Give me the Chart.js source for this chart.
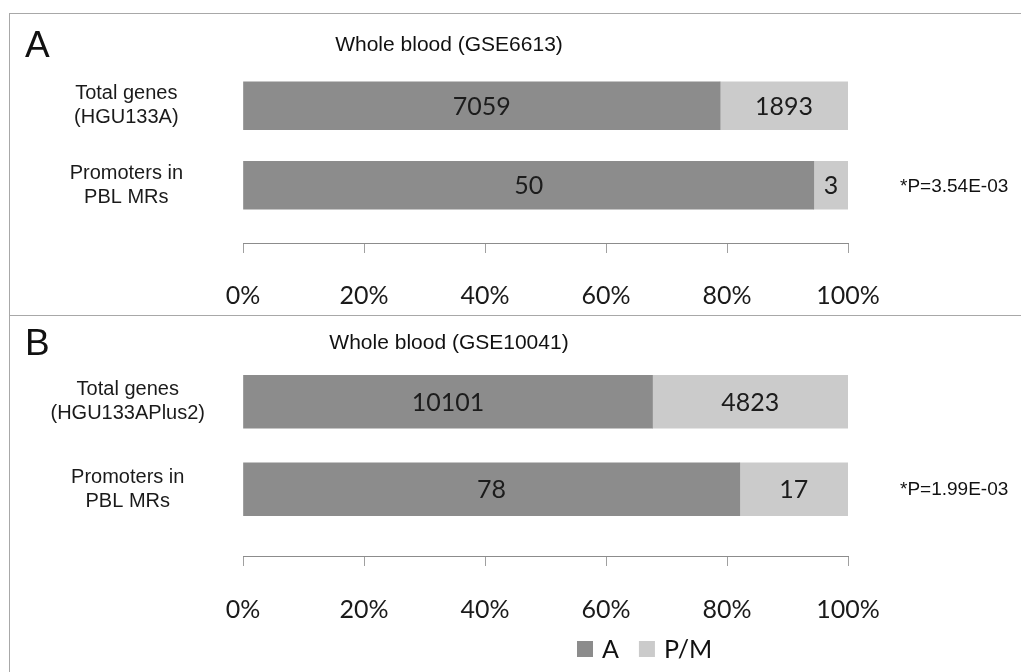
<!DOCTYPE html>
<html>
<head>
<meta charset="utf-8">
<script src="https://cdn.jsdelivr.net/npm/chart.js@4.4.1/dist/chart.umd.min.js"></script>
<style>
  html, body { margin: 0; padding: 0; background: #fff; }
  #wrap { position: relative; width: 1021px; height: 672px; overflow: hidden; background: #fff; }
  .panel { position: absolute; left: 0; width: 1021px; }
  .rule { position: absolute; background: #a8a8a8; }
</style>
</head>
<body>
<div id="wrap">
  <div class="panel" style="top:0;height:315px"><canvas id="chartA" width="1021" height="315"></canvas></div>
  <div class="panel" style="top:315px;height:357px"><canvas id="chartB" width="1021" height="357"></canvas></div>
  <div class="rule" style="left:9px;top:13px;width:1012px;height:1px"></div>
  <div class="rule" style="left:9px;top:13px;width:1px;height:659px"></div>
  <div class="rule" style="left:9px;top:315px;width:1012px;height:1px"></div>
</div>
<script>
// Series and shared axis values
const seriesNames = ['A', 'P/M'];
const seriesColors = ['#8c8c8c', '#cbcbcb'];
const percentTicks = [0, 20, 40, 60, 80, 100];

// Panel A: whole blood, GSE6613
const panelLetterA = 'A';
const titleA = 'Whole blood (GSE6613)';
const categoriesA = [['Total genes', '(HGU133A)'], ['Promoters in', 'PBL MRs']];
const countsA_A = [7059, 50];
const countsA_PM = [1893, 3];
const pLabelsA = ['', '*P=3.54E-03'];

// Panel B: whole blood, GSE10041
const panelLetterB = 'B';
const titleB = 'Whole blood (GSE10041)';
const categoriesB = [['Total genes', '(HGU133APlus2)'], ['Promoters in', 'PBL MRs']];
const countsB_A = [10101, 78];
const countsB_PM = [4823, 17];
const pLabelsB = ['', '*P=1.99E-03'];

const SANS = "'Liberation Sans', Arial, sans-serif";
const ROUND = "Lato, 'Open Sans', sans-serif";

Chart.defaults.font.family = SANS;
Chart.defaults.color = '#1a1a1a';

// share of each row, in percent
function percentRows(part, other) {
  return part.map((v, i) => ({ x: v / (v + other[i]) * 100, y: i }));
}

// count written in the middle of each segment
const segmentLabels = {
  id: 'segmentLabels',
  afterDatasetsDraw(chart) {
    const ctx = chart.ctx;
    ctx.save();
    ctx.font = `25px ${ROUND}`;
    ctx.fillStyle = '#1c1c1c';
    ctx.textAlign = 'center';
    ctx.textBaseline = 'middle';
    chart.data.datasets.forEach((ds, di) => {
      chart.getDatasetMeta(di).data.forEach((el, i) => {
        const p = el.getCenterPoint();
        ctx.fillText(String(ds.counts[i]), p.x, p.y + 1);
      });
    });
    ctx.restore();
  }
};

// panel letter, heading and p-value notes
const panelText = {
  id: 'panelText',
  afterDraw(chart, args, o) {
    const ctx = chart.ctx;
    const area = chart.chartArea;
    ctx.save();
    ctx.fillStyle = '#111';
    ctx.textBaseline = 'middle';
    ctx.textAlign = 'left';
    ctx.font = `37px ${SANS}`;
    ctx.fillText(o.letter, o.letterX, o.letterY);
    ctx.font = `21px ${SANS}`;
    ctx.textAlign = 'center';
    ctx.fillText(o.title, o.titleX, o.titleY);
    ctx.textAlign = 'left';
    ctx.font = `19px ${SANS}`;
    const meta = chart.getDatasetMeta(0);
    o.notes.forEach((t, i) => {
      if (!t) return;
      ctx.fillText(t, area.right + o.noteGap, meta.data[i].y + 1);
    });
    ctx.restore();
  }
};

// legend row under the lower panel
const legendRow = {
  id: 'legendRow',
  afterDraw(chart, args, o) {
    if (!o.show) return;
    const ctx = chart.ctx;
    ctx.save();
    ctx.font = `25px ${ROUND}`;
    ctx.textBaseline = 'middle';
    ctx.textAlign = 'left';
    let x = o.x;
    chart.data.datasets.forEach(ds => {
      ctx.fillStyle = ds.backgroundColor;
      ctx.fillRect(x, o.y - 8, 16, 16);
      x += 16 + 9;
      ctx.fillStyle = '#111';
      ctx.fillText(ds.label, x, o.y + 1);
      x += ctx.measureText(ds.label).width + 20;
    });
    ctx.restore();
  }
};

function makePanel(canvasId, cfg) {
  const cats = cfg.categories;
  return new Chart(document.getElementById(canvasId), {
    type: 'bar',
    data: {
      datasets: [
        { label: seriesNames[0], data: percentRows(cfg.countsA, cfg.countsPM), counts: cfg.countsA,
          backgroundColor: seriesColors[0], borderWidth: 0, barThickness: cfg.barThickness },
        { label: seriesNames[1], data: percentRows(cfg.countsPM, cfg.countsA), counts: cfg.countsPM,
          backgroundColor: seriesColors[1], borderWidth: 0, barThickness: cfg.barThickness }
      ]
    },
    options: {
      indexAxis: 'y',
      responsive: false,
      animation: false,
      devicePixelRatio: 1,
      layout: { padding: { top: cfg.areaTop, right: 173, bottom: 0, left: 0 } },
      plugins: {
        legend: { display: false },
        tooltip: { enabled: false },
        panelText: {
          letter: cfg.letter, letterX: 25, letterY: cfg.letterY,
          title: cfg.title, titleX: 449, titleY: cfg.titleY,
          notes: cfg.notes, noteGap: 52
        },
        legendRow: { show: cfg.legend, x: 577, y: 334 }
      },
      scales: {
        x: {
          type: 'linear',
          stacked: true,
          min: 0,
          max: 100,
          afterBuildTicks: s => { s.ticks = percentTicks.map(v => ({ value: v })); },
          afterFit: s => { s.height = cfg.axisHeight; },
          ticks: {
            callback: v => v + '%',
            padding: cfg.tickPad,
            maxRotation: 0,
            autoSkip: false,
            color: '#1a1a1a',
            font: { family: ROUND, size: 25 }
          },
          grid: { drawOnChartArea: false, drawTicks: true, tickLength: 10, color: '#a0a0a0', lineWidth: 1 },
          border: { display: true, color: '#8c8c8c', width: 1 }
        },
        y: {
          type: 'linear',
          stacked: true,
          reverse: true,
          offset: false,
          min: -0.5,
          max: cfg.yMax,
          afterBuildTicks: s => { s.ticks = cats.map((_, i) => ({ value: i })); },
          afterFit: s => { s.width = 243; },
          ticks: {
            callback: v => cats[v],
            crossAlign: 'center',
            padding: 0,
            color: '#1a1a1a',
            font: { family: SANS, size: 20, lineHeight: 1.2 }
          },
          // the tick length only sets the gap between the row names and the bars
          grid: { display: false, drawTicks: true, tickLength: cfg.labelGap, offset: false },
          border: { display: false }
        }
      }
    },
    plugins: [segmentLabels, panelText, legendRow]
  });
}

makePanel('chartA', {
  categories: categoriesA, countsA: countsA_A, countsPM: countsA_PM, notes: pLabelsA,
  letter: panelLetterA, letterY: 47, title: titleA, titleY: 45,
  areaTop: 66, yMax: 1.726, axisHeight: 72, tickPad: 28, labelGap: 60, barThickness: 48,
  legend: false
});

makePanel('chartB', {
  categories: categoriesB, countsA: countsB_A, countsPM: countsB_PM, notes: pLabelsB,
  letter: panelLetterB, letterY: 30, title: titleB, titleY: 28,
  areaTop: 43, yMax: 1.763, axisHeight: 116, tickPad: 29, labelGap: 38, barThickness: 53,
  legend: true
});
</script>
</body>
</html>
